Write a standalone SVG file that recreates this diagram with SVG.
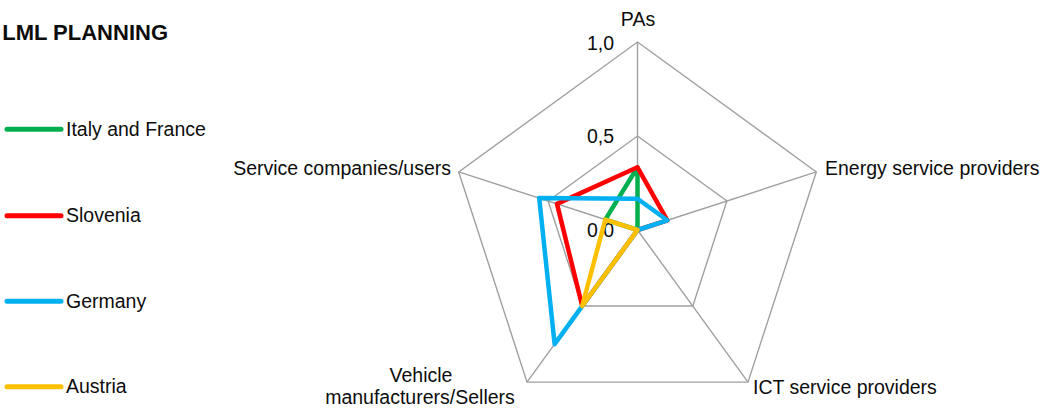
<svg xmlns="http://www.w3.org/2000/svg" width="1045" height="410" viewBox="0 0 1045 410">
  <style>
    text { font-family: "Liberation Sans", Arial, sans-serif; font-size: 19.5px; fill: #0d0d0d; }
    .title { font-weight: bold; font-size: 22px; }
    .grid { fill: none; stroke: #a0a0a0; stroke-width: 1.4; }
    .series { fill: none; stroke-width: 4.5; stroke-linejoin: round; }
    .leg { stroke-width: 5; stroke-linecap: round; }
  </style>
  <rect width="1045" height="410" fill="#ffffff"/>

  <g id="title"><text class="title" x="168" y="40" text-anchor="end">LML PLANNING</text></g>

  <g id="grid">
    <polygon class="grid" points="637.5,42 816.3,171.9 748,382.1 527,382.1 458.7,171.9"/>
    <polygon class="grid" points="637.5,136 726.9,201 692.8,306 582.2,306 548.1,201"/>
    <path class="grid" d="M637.5,230 L637.5,42 M637.5,230 L816.3,171.9 M637.5,230 L748,382.1 M637.5,230 L527,382.1 M637.5,230 L458.7,171.9"/>
  </g>

  <g id="tick-labels">
    <text x="614" y="50" text-anchor="end">1,0</text>
    <text x="614" y="143" text-anchor="end">0,5</text>
    <text x="614" y="237" text-anchor="end">0,0</text>
  </g>

  <g id="axis-labels">
    <text x="638" y="26" text-anchor="middle">PAs</text>
    <text x="825" y="175">Energy service providers</text>
    <text x="753" y="394">ICT service providers</text>
    <text x="421" y="382" text-anchor="middle">Vehicle</text>
    <text x="420" y="404" text-anchor="middle">manufacturers/Sellers</text>
    <text x="451" y="175" text-anchor="end">Service companies/users</text>
  </g>

  <g id="connectors">
    <path id="italy-france" class="series" stroke="#00b050" d="M637.5,167.3 L637.5,230 L605.3,219.6 Z"/>
    <path id="slovenia" class="series" stroke="#ff0000" d="M637.5,167.3 L667.3,220.3 L637.5,230 L582.2,306 L557,203.9 Z"/>
    <path id="germany" class="series" stroke="#00b0f0" d="M637.5,198.7 L667.3,220.3 L637.5,230 L554.6,344.1 L539.2,198 Z"/>
    <path id="austria" class="series" stroke="#ffc000" d="M637.5,230 L582.2,306 L605.3,219.6 Z"/>
  </g>

  <g id="legend-italy">
    <line class="leg" x1="7" y1="129.3" x2="61" y2="129.3" stroke="#00b050"/>
    <text x="66" y="136">Italy and France</text>
  </g>
  <g id="legend-slovenia">
    <line class="leg" x1="7" y1="215.7" x2="61" y2="215.7" stroke="#ff0000"/>
    <text x="66" y="222">Slovenia</text>
  </g>
  <g id="legend-germany">
    <line class="leg" x1="7" y1="301.3" x2="61" y2="301.3" stroke="#00b0f0"/>
    <text x="66" y="308">Germany</text>
  </g>
  <g id="legend-austria">
    <line class="leg" x1="7" y1="386.7" x2="61" y2="386.7" stroke="#ffc000"/>
    <text x="66" y="393">Austria</text>
  </g>
</svg>
